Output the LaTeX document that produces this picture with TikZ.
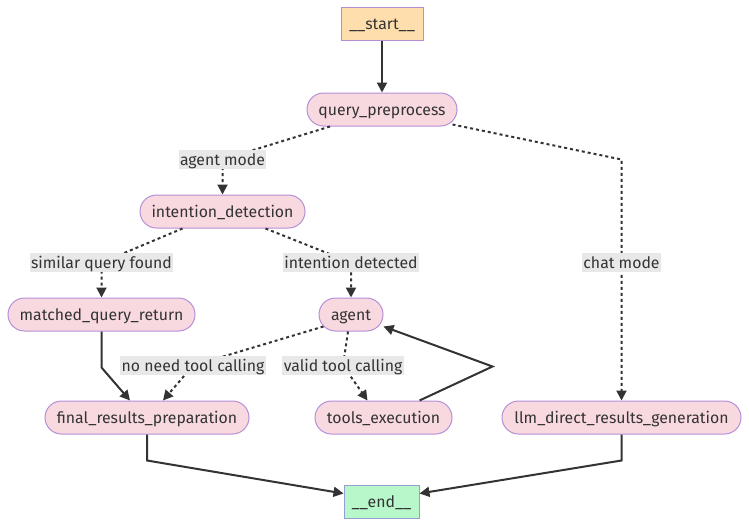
\documentclass[tikz,border=0pt]{standalone}
\usepackage{fontspec}
\setmainfont{Fira Sans}
\usepackage{tikz}
\usetikzlibrary{arrows.meta,positioning,calc}
\definecolor{NodePink}{HTML}{F9D9E0}
\definecolor{NodeLine}{HTML}{B48ED6}
\definecolor{StartFill}{HTML}{FFDEAD}
\definecolor{EndFill}{HTML}{B8F7CA}
\definecolor{EndLine}{HTML}{94A0D2}
\definecolor{EdgeGrey}{HTML}{333333}
\definecolor{LabelGrey}{HTML}{E8E8E8}
\tikzset{
  BX/.style={rectangle,minimum height=33pt,inner sep=0pt,
             text centered,draw,line width=1pt,text height=13.5pt,text depth=2.5pt},
  pN/.style={BX,rounded corners=16.5pt,fill=NodePink,draw=NodeLine},
  sN/.style={BX,fill=StartFill,draw=NodeLine},
  eN/.style={BX,fill=EndFill,draw=EndLine},
  lbl/.style={fill=LabelGrey,inner xsep=1.5pt,inner ysep=1.5pt,text height=14pt,text depth=2pt},
  arr/.style={-{Triangle[length=10pt,width=10pt]},line width=2pt,draw=EdgeGrey},
  darr/.style={arr,dash pattern=on 3pt off 3pt}
}

\begin{document}
\begin{tikzpicture}[x=1pt,y=-1pt,every node/.style={font=\fontsize{15.8}{19}\selectfont,text=EdgeGrey}]
  \useasboundingbox (0,0) rectangle (749,527);

  \node[sN,minimum width=82pt] (start) at (382,24.5) {\_\_start\_\_};
  \node[pN,minimum width=150pt,below=51pt of start] (qp) {query\_preprocess};
  \node[pN,minimum width=165pt] (id) at (222.5,211.5) {intention\_detection};
  \node[pN,minimum width=187pt] (matched) at (101.5,314.5) {matched\_query\_return};
  \node[pN,minimum width=64pt] (agent) at (351,314.5) {agent};
  \node[pN,minimum width=204pt] (final) at (147,417.5) {final\_results\_preparation};
  \node[pN,minimum width=137pt] (tools) at (383.5,417.5) {tools\_execution};
  \node[pN,minimum width=239pt] (llm) at (621.5,417.5) {llm\_direct\_results\_generation};
  \node[eN,minimum width=75pt] (end) at (381.5,501.5) {\_\_end\_\_};

  \coordinate (rowA) at ($(id.north)+(0,-35)$);
  \coordinate (rowB) at ($(matched.north)+(0,-35)$);
  \coordinate (rowC) at ($(final.north)+(0,-35)$);

  \draw[arr](start)--(qp);
  \draw[darr]($(qp.south)+(-52,0)$)--(id.north |- rowA) node[lbl] (lAgent) {agent mode}--(id.north);
  \draw[darr]($(qp.south east)+(-5,-2)$)--(llm.north |- rowA)--(llm.north |- rowB) node[lbl] (lChat) {chat mode}--(llm.north);
  \draw[darr]($(id.south)+(-40,0)$)--(matched.north |- rowB) node[lbl] (lSimilar) {similar query found}--(matched.north);
  \draw[darr]($(id.south)+(43,0)$)--(agent.north |- rowB) node[lbl] (lIntent) {intention detected}--(agent.north);
  \draw[arr](matched.south)--++(0,36)--($(final.north)+(-17,0)$);
  \draw[darr]($(agent.south west)+(5,-5)$)--($(final.north |- rowC)+(46,0)$) node[lbl] (lNoNeed) {no need tool calling}--($(final.north)+(16,0)$);
  \draw[darr]($(agent.south)+(-3,0)$)--($(agent.south |- rowC)+(-8,0)$) node[lbl] (lValid) {valid tool calling}--($(tools.north)+(-16,0)$);
  \draw[arr]($(tools.north)+(36,0)$)--($(tools.north)+(109,-34)$)--($(agent.south east)+(0,-5)$);
  \draw[arr](final.south)--++(0,26)--($(end.west)+(0,-8)$);
  \draw[arr](llm.south)--++(0,26)--($(end.east)+(0,-8)$);
\end{tikzpicture}
\end{document}
